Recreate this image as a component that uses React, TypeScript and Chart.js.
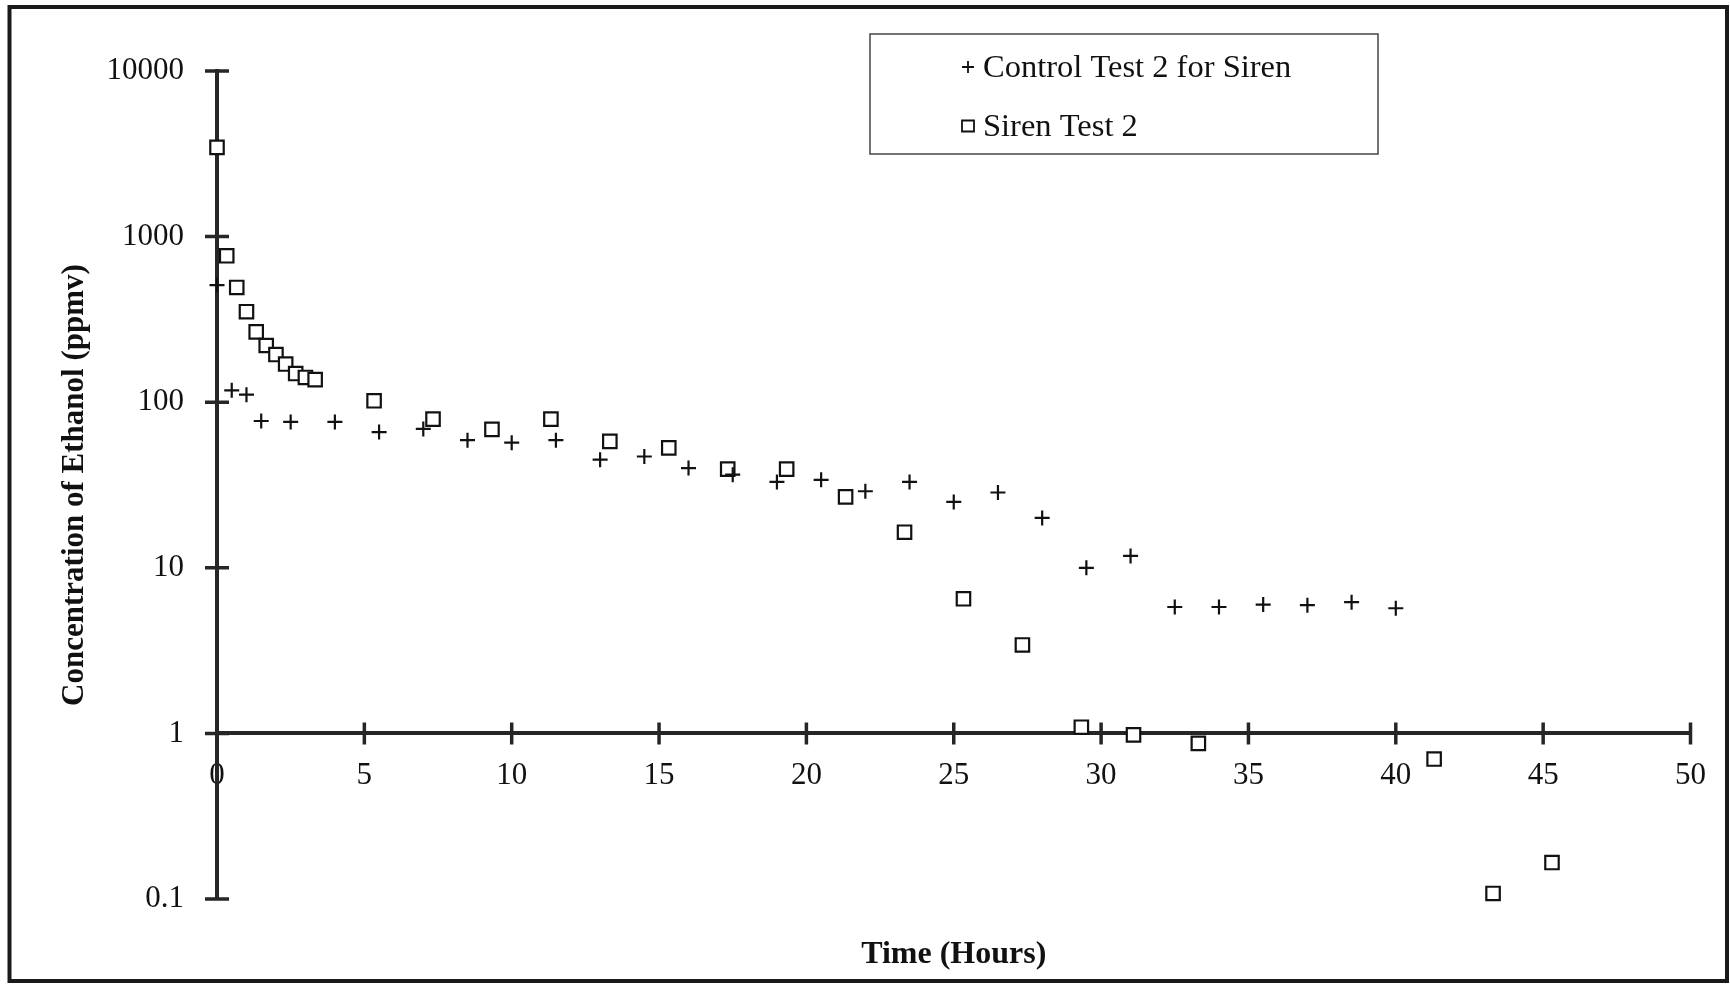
import React, { useEffect, useRef } from "react";
import { Chart, registerables } from "chart.js";

Chart.register(...registerables);

// ---- data ----
const controlLabel = "Control Test 2 for Siren";
const controlTime = [0, 0.5, 1, 1.5, 2.5, 4, 5.5, 7, 8.5, 10, 11.5, 13, 14.5, 16, 17.5, 19, 20.5, 22, 23.5, 25, 26.5, 28, 29.5, 31, 32.5, 34, 35.5, 37, 38.5, 40];
const controlValues = [510, 118, 111, 77, 76, 76, 66, 69, 59, 57, 59, 45, 47, 40, 36.5, 33, 34, 29, 33, 25, 28.5, 20, 10, 11.8, 5.8, 5.8, 6.0, 5.95, 6.2, 5.7];

const sirenLabel = "Siren Test 2";
const sirenTime = [0, 0.33, 0.67, 1, 1.33, 1.67, 2, 2.33, 2.67, 3, 3.33, 5.33, 7.33, 9.33, 11.33, 13.33, 15.33, 17.33, 19.33, 21.33, 23.33, 25.33, 27.33, 29.33, 31.1, 33.3, 41.3, 43.3, 45.3];
const sirenValues = [3460, 766, 493, 352, 266, 220, 194, 170, 149, 141, 137, 102, 79, 68.5, 79, 58, 53, 39.4, 39.4, 26.8, 16.4, 6.5, 3.42, 1.09, 0.98, 0.87, 0.7, 0.108, 0.166];

const xTickValues = [0, 5, 10, 15, 20, 25, 30, 35, 40, 45, 50];
const xTickLabels = ["0", "5", "10", "15", "20", "25", "30", "35", "40", "45", "50"];
const yTickValues = [0.1, 1, 10, 100, 1000, 10000];
const yTickLabels = ["0.1", "1", "10", "100", "1000", "10000"];
const xAxisCrossValue = 1;

const xTitle = "Time (Hours)";
const yTitle = "Concentration of Ethanol (ppmv)";

// ---- styles ----
const FONT = "'Liberation Serif', 'Times New Roman', serif";
const INK = "#111111";
const AXIS = "#262626";

const decorPlugin = {
  id: "decor",
  beforeDraw(chart: any) {
    const ctx = chart.ctx;
    ctx.save();
    ctx.fillStyle = "#ffffff";
    ctx.fillRect(0, 0, chart.width, chart.height);
    ctx.restore();
  },
  beforeDatasetsDraw(chart: any) {
    const ctx = chart.ctx;
    const xs = chart.scales.x;
    const ys = chart.scales.y;
    const axisY = ys.getPixelForValue(xAxisCrossValue);
    const axisX = chart.chartArea.left;
    ctx.save();
    ctx.strokeStyle = AXIS;
    ctx.lineWidth = 3.5;
    ctx.beginPath();
    xs.ticks.forEach((t: any) => {
      const px = xs.getPixelForValue(t.value);
      ctx.moveTo(px, axisY - 11);
      ctx.lineTo(px, axisY + 11);
    });
    ys.ticks.forEach((t: any) => {
      const py = ys.getPixelForValue(t.value);
      ctx.moveTo(axisX - 12, py);
      ctx.lineTo(axisX + 12, py);
    });
    ctx.stroke();
    ctx.restore();
  },
  afterDraw(chart: any) {
    const ctx = chart.ctx;
    ctx.save();
    // outer frame
    ctx.strokeStyle = "#1a1a1a";
    ctx.lineWidth = 4;
    ctx.strokeRect(9.5, 7, 1717.5, 974);

    // legend box
    ctx.lineWidth = 1.5;
    ctx.strokeStyle = "#444444";
    ctx.strokeRect(870, 34, 508, 120);

    const ds = chart.data.datasets;
    const rows = [67, 126];
    ctx.font = `32.5px ${FONT}`;
    ctx.fillStyle = INK;
    ctx.textBaseline = "middle";
    ctx.textAlign = "left";
    ds.forEach((d: any, i: number) => {
      const cy = rows[i];
      const cx = 968;
      ctx.strokeStyle = INK;
      ctx.lineWidth = 1.8;
      ctx.beginPath();
      if (d.pointStyle === "cross") {
        ctx.moveTo(cx - 6, cy);
        ctx.lineTo(cx + 6, cy);
        ctx.moveTo(cx, cy - 6);
        ctx.lineTo(cx, cy + 6);
        ctx.stroke();
      } else {
        ctx.rect(cx - 6, cy - 5.5, 12, 11);
        ctx.stroke();
      }
      ctx.fillText(d.label, 983, cy + 1);
    });
    ctx.restore();
  },
};

export default function App() {
  const canvasRef = useRef<HTMLCanvasElement | null>(null);

  useEffect(() => {
    if (!canvasRef.current) return;
    const tickFont = { family: FONT, size: 31 };
    const chart = new Chart(canvasRef.current, {
      type: "scatter",
      data: {
        datasets: [
          {
            label: controlLabel,
            data: controlTime.map((t, i) => ({ x: t, y: controlValues[i] })),
            pointStyle: "cross",
            pointRadius: 7.5,
            pointBorderWidth: 2.2,
            pointBorderColor: INK,
            pointBackgroundColor: INK,
            borderColor: INK,
            showLine: false,
            clip: false,
          } as any,
          {
            label: sirenLabel,
            data: sirenTime.map((t, i) => ({ x: t, y: sirenValues[i] })),
            pointStyle: "rect",
            pointRadius: 9.5,
            pointBorderWidth: 2.2,
            pointBorderColor: INK,
            pointBackgroundColor: "#ffffff",
            borderColor: INK,
            backgroundColor: "#ffffff",
            showLine: false,
            clip: false,
          } as any,
        ],
      },
      options: {
        animation: false,
        responsive: false,
        events: [],
        layout: { padding: { left: 0, top: 71, right: 34, bottom: 85 } },
        plugins: {
          legend: { display: false },
          tooltip: { enabled: false },
          title: { display: false },
        },
        scales: {
          x: {
            type: "linear",
            min: 0,
            max: 50,
            position: { y: xAxisCrossValue } as any,
            grid: { display: false, drawTicks: false },
            border: { display: true, color: AXIS, width: 4 },
            ticks: {
              padding: 24,
              font: tickFont,
              color: INK,
              maxRotation: 0,
              autoSkip: false,
              callback: (_v: any, i: number) => xTickLabels[i],
            },
            afterBuildTicks: (s: any) => {
              s.ticks = xTickValues.map((v) => ({ value: v }));
            },
            title: {
              display: true,
              text: xTitle,
              color: INK,
              font: { family: FONT, size: 32, weight: "bold" },
              padding: { top: 117, bottom: 0 },
            },
          } as any,
          y: {
            type: "logarithmic",
            min: 0.1,
            max: 10000,
            position: "left",
            grid: { display: false, drawTicks: false },
            border: { display: true, color: AXIS, width: 4 },
            ticks: {
              padding: 33,
              font: tickFont,
              color: INK,
              autoSkip: false,
              callback: (_v: any, i: number) => yTickLabels[i],
            },
            afterBuildTicks: (s: any) => {
              s.ticks = yTickValues.map((v) => ({ value: v }));
            },
            afterFit: (s: any) => {
              s.width = 217;
            },
            title: {
              display: true,
              text: yTitle,
              color: INK,
              font: { family: FONT, size: 31, weight: "bold" },
              padding: { top: 56, bottom: 0 },
            },
          } as any,
        },
      } as any,
      plugins: [decorPlugin],
    });
    return () => chart.destroy();
  }, []);

  return (
    <div style={{ position: "absolute", left: 0, top: 0, width: 1730, height: 984, background: "#fff" }}>
      <canvas ref={canvasRef} width={1730} height={984} style={{ display: "block" }} />
    </div>
  );
}
